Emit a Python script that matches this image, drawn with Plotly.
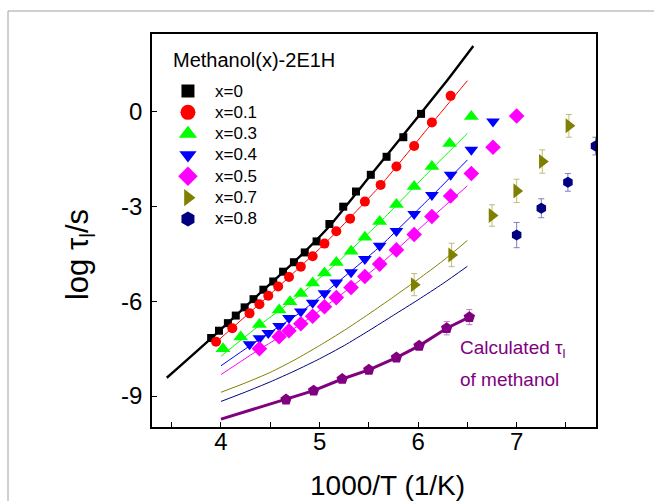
import plotly.graph_objects as go

# ---- measured relaxation times, log(tau_l / s) vs 1000/T ----
series_names = ["x=0", "x=0.1", "x=0.3", "x=0.4", "x=0.5", "x=0.7", "x=0.8"]

x0_T = [3.90, 3.98, 4.07, 4.15, 4.24, 4.33, 4.43, 4.53, 4.63, 4.74, 4.85, 4.97,
        5.10, 5.24, 5.37, 5.52, 5.68, 5.85, 6.03]
x0_tau = [-7.16, -6.93, -6.69, -6.45, -6.19, -5.93, -5.63, -5.37, -5.06, -4.76,
          -4.45, -4.10, -3.55, -3.00, -2.52, -1.99, -1.42, -0.80, -0.06]

x01_T = [3.95, 4.115, 4.29, 4.39, 4.48, 4.58, 4.69, 4.81, 4.93, 5.05, 5.17, 5.31,
         5.46, 5.62, 5.78, 5.96, 6.14, 6.33]
x01_tau = [-7.28, -6.85, -6.38, -6.09, -5.82, -5.53, -5.23, -4.90, -4.57, -4.17,
           -3.78, -3.38, -2.84, -2.31, -1.73, -1.08, -0.33, 0.51]

x03_T = [4.02, 4.20, 4.39, 4.59, 4.70, 4.81, 4.93, 5.05, 5.17, 5.32, 5.46, 5.61,
         5.78, 5.96, 6.14, 6.32, 6.54]
x03_tau = [-7.50, -7.13, -6.73, -6.27, -6.01, -5.75, -5.42, -5.10, -4.77, -4.41,
           -3.97, -3.47, -2.93, -2.36, -1.73, -1.00, -0.14]

x04_T = [4.29, 4.39, 4.48, 4.59, 4.69, 4.81, 4.93, 5.05, 5.17, 5.32, 5.46, 5.61,
         5.78, 5.96, 6.14, 6.33, 6.54, 6.76]
x04_tau = [-7.36, -7.17, -7.00, -6.78, -6.53, -6.32, -6.04, -5.74, -5.40, -5.08,
           -4.66, -4.24, -3.77, -3.23, -2.63, -1.99, -1.20, -0.30]

x05_T = [4.39, 4.59, 4.69, 4.81, 4.93, 5.05, 5.17, 5.32, 5.46, 5.61, 5.78, 5.96,
         6.14, 6.33, 6.54, 6.76, 7.00]
x05_tau = [-7.50, -7.12, -6.93, -6.71, -6.47, -6.17, -5.88, -5.56, -5.21, -4.82,
           -4.37, -3.88, -3.31, -2.66, -1.95, -1.12, -0.13]

x07_T = [5.96, 6.34, 6.75, 7.00, 7.26, 7.53]
x07_tau = [-5.47, -4.53, -3.28, -2.50, -1.57, -0.44]
x07_err = [0.35, 0.37, 0.34, 0.37, 0.37, 0.36]

x08_T = [7.00, 7.25, 7.52, 7.80]
x08_tau = [-3.90, -3.05, -2.23, -1.08]
x08_err = [0.40, 0.30, 0.28, 0.28]

# calculated tau_l of pure methanol
meoh_T = [4.66, 4.94, 5.23, 5.50, 5.78, 6.01, 6.29, 6.52]
meoh_tau = [-9.11, -8.83, -8.46, -8.17, -7.78, -7.41, -6.85, -6.50]
meoh_err = [0, 0, 0, 0, 0, 0, 0.21, 0.24]

# ---- fitted curves ----
fit0_T = [3.45, 3.90, 4.33, 4.74, 5.10, 5.52, 6.02, 6.30, 6.56]
fit0_tau = [-8.42, -7.17, -5.93, -4.76, -3.62, -2.00, -0.07, 1.02, 2.09]
fit01_T = [3.93, 4.48, 5.05, 5.62, 6.14, 6.50]
fit01_tau = [-7.35, -5.83, -4.18, -2.32, -0.36, 0.99]
fit03_T = [4.00, 4.39, 4.81, 5.17, 5.61, 6.14, 6.50]
fit03_tau = [-7.74, -6.76, -5.77, -4.80, -3.50, -1.80, -0.68]
fit04_T = [4.00, 4.39, 4.81, 5.17, 5.61, 6.14, 6.50]
fit04_tau = [-8.04, -7.20, -6.34, -5.43, -4.27, -2.66, -1.52]
fit05_T = [4.00, 4.39, 4.81, 5.17, 5.61, 6.14, 6.50]
fit05_tau = [-8.32, -7.52, -6.72, -5.90, -4.84, -3.34, -2.34]
fit07_T = [4.00, 4.25, 4.50, 4.75, 5.00, 5.25, 5.50, 5.75, 6.00, 6.25, 6.50]
fit07_tau = [-8.88, -8.58, -8.25, -7.85, -7.40, -6.92, -6.40, -5.86, -5.30, -4.72, -4.07]
fit08_T = [4.00, 4.25, 4.50, 4.75, 5.00, 5.25, 5.50, 5.75, 6.00, 6.25, 6.50]
fit08_tau = [-9.17, -8.87, -8.55, -8.20, -7.82, -7.40, -6.93, -6.44, -5.95, -5.44, -4.89]
meoh_line_T = [4.00] + meoh_T
meoh_line_tau = [-9.73] + meoh_tau

y_ticks = [0, -3, -6, -9]
y_tick_text = ["0", "-3", "-6", "-9"]

FONT = "Arial, Liberation Sans, sans-serif"
colors = ["#000000", "#FF0000", "#00FF00", "#0000FF", "#FF00FF", "#808000", "#000080"]
symbols = ["square", "circle", "triangle-up", "triangle-down", "diamond",
           "triangle-right", "hexagon"]
sizes = [8, 10, 13, 12, 12, 13, 11]
legend_sizes = [13, 15, 16, 15, 15, 15, 15]
PURPLE = "#800080"

fig = go.Figure()

fits = [(fit0_T, fit0_tau, 2.4), (fit01_T, fit01_tau, 1), (fit03_T, fit03_tau, 1),
        (fit04_T, fit04_tau, 1), (fit05_T, fit05_tau, 1), (fit07_T, fit07_tau, 1),
        (fit08_T, fit08_tau, 1)]
for (fx, fy, w), c in zip(fits, colors):
    fig.add_trace(go.Scatter(x=fx, y=fy, mode="lines", showlegend=False,
                             line=dict(color=c, width=w, shape="spline", smoothing=0.6),
                             hoverinfo="skip"))

fig.add_trace(go.Scatter(x=meoh_line_T, y=meoh_line_tau, mode="lines", showlegend=False,
                         line=dict(color=PURPLE, width=3), hoverinfo="skip"))

data = [(x0_T, x0_tau, None), (x01_T, x01_tau, None), (x03_T, x03_tau, None),
        (x04_T, x04_tau, None), (x05_T, x05_tau, None), (x07_T, x07_tau, x07_err),
        (x08_T, x08_tau, x08_err)]
err_colors = [None, None, None, None, None, "#BDBD7A", "#7F7FBF"]
for (dx, dy, de), c, s, sz, ec, nm in zip(data, colors, symbols, sizes, err_colors,
                                          series_names):
    kw = {}
    if de is not None:
        kw["error_y"] = dict(type="data", array=de, color=ec, thickness=1, width=3)
    fig.add_trace(go.Scatter(x=dx, y=dy, mode="markers", name=nm, showlegend=False,
                             marker=dict(symbol=s, size=sz, color=c, line=dict(width=0)),
                             **kw))

fig.add_trace(go.Scatter(x=meoh_T, y=meoh_tau, mode="markers", showlegend=False,
                         marker=dict(symbol="pentagon", size=12, color=PURPLE),
                         error_y=dict(type="data", array=meoh_err, color="#C080C0",
                                      thickness=1, width=3)))

# legend block: symbols on an overlay axis spanning the plot area (0..1 both ways)
legend_x_sym = 0.081
legend_x_txt = 0.137
legend_rows = [(427 - (91 + 21.33 * i)) / 393 for i in range(len(series_names))]
for c, s, sz, ly in zip(colors, symbols, legend_sizes, legend_rows):
    fig.add_trace(go.Scatter(x=[legend_x_sym], y=[ly], mode="markers", showlegend=False,
                             xaxis="x2", yaxis="y2", cliponaxis=False, hoverinfo="skip",
                             marker=dict(symbol=s, size=sz, color=c, line=dict(width=0))))
for nm, ly in zip(series_names, legend_rows):
    fig.add_annotation(text=nm, xref="paper", yref="paper", x=legend_x_txt, y=ly,
                       xanchor="left", yanchor="middle", showarrow=False,
                       font=dict(family=FONT, size=17, color="black"))
fig.add_annotation(text="Methanol(x)-2E1H", xref="paper", yref="paper", x=0.0428,
                   y=0.934, xanchor="left", yanchor="middle", showarrow=False,
                   font=dict(family=FONT, size=20, color="black"))

axis_common = dict(showgrid=False, zeroline=False, showline=True, linecolor="black",
                   linewidth=1.6, mirror=True, ticks="inside", ticklen=5,
                   tickcolor="black", tickwidth=1.3,
                   tickfont=dict(family=FONT, size=24, color="black"))

fig.update_xaxes(range=[3.3, 7.805], tickmode="array", tickvals=[4, 5, 6, 7],
                 minor=dict(ticks="inside", ticklen=5, tickvals=[3.5, 4.5, 5.5, 6.5, 7.5],
                            tickcolor="black", tickwidth=1.3),
                 ticklabelstandoff=-8, **axis_common)
fig.update_yaxes(range=[-9.98, 2.47], tickmode="array", tickvals=y_ticks,
                 ticktext=y_tick_text, ticklabelstandoff=3, **axis_common)

fig.add_annotation(text="1000/T (1/K)", xref="paper", yref="paper", x=0.5315, y=-0.150,
                   xanchor="center", yanchor="middle", showarrow=False,
                   font=dict(family=FONT, size=28, color="black"))
fig.add_annotation(text="log τ<sub>l</sub>/s", xref="paper", yref="paper", x=-0.162,
                   y=0.4377, xanchor="center", yanchor="middle", textangle=-90,
                   showarrow=False, font=dict(family=FONT, size=31, color="black"))
fig.add_annotation(text="Calculated τ<sub>l</sub>", xref="paper", yref="paper", x=0.689,
                   y=0.198, xanchor="left", yanchor="middle", showarrow=False,
                   font=dict(family=FONT, size=19, color=PURPLE))
fig.add_annotation(text="of methanol", xref="paper", yref="paper", x=0.689, y=0.122,
                   xanchor="left", yanchor="middle", showarrow=False,
                   font=dict(family=FONT, size=19, color=PURPLE))

# thin frame around the whole figure
fig.add_shape(type="rect", xref="paper", yref="paper", x0=-0.3243, x1=1.1441,
              y0=-0.2366, y1=1.0585, line=dict(color="#A0A0A0", width=1), layer="below")

fig.update_layout(
    width=654, height=501,
    margin=dict(l=152, r=58, t=34, b=74),
    paper_bgcolor="white", plot_bgcolor="white",
    font=dict(family=FONT, color="black"),
    showlegend=False,
    xaxis2=dict(overlaying="x", range=[0, 1], visible=False, fixedrange=True),
    yaxis2=dict(overlaying="y", range=[0, 1], visible=False, fixedrange=True),
)

fig.write_html("out.html")
